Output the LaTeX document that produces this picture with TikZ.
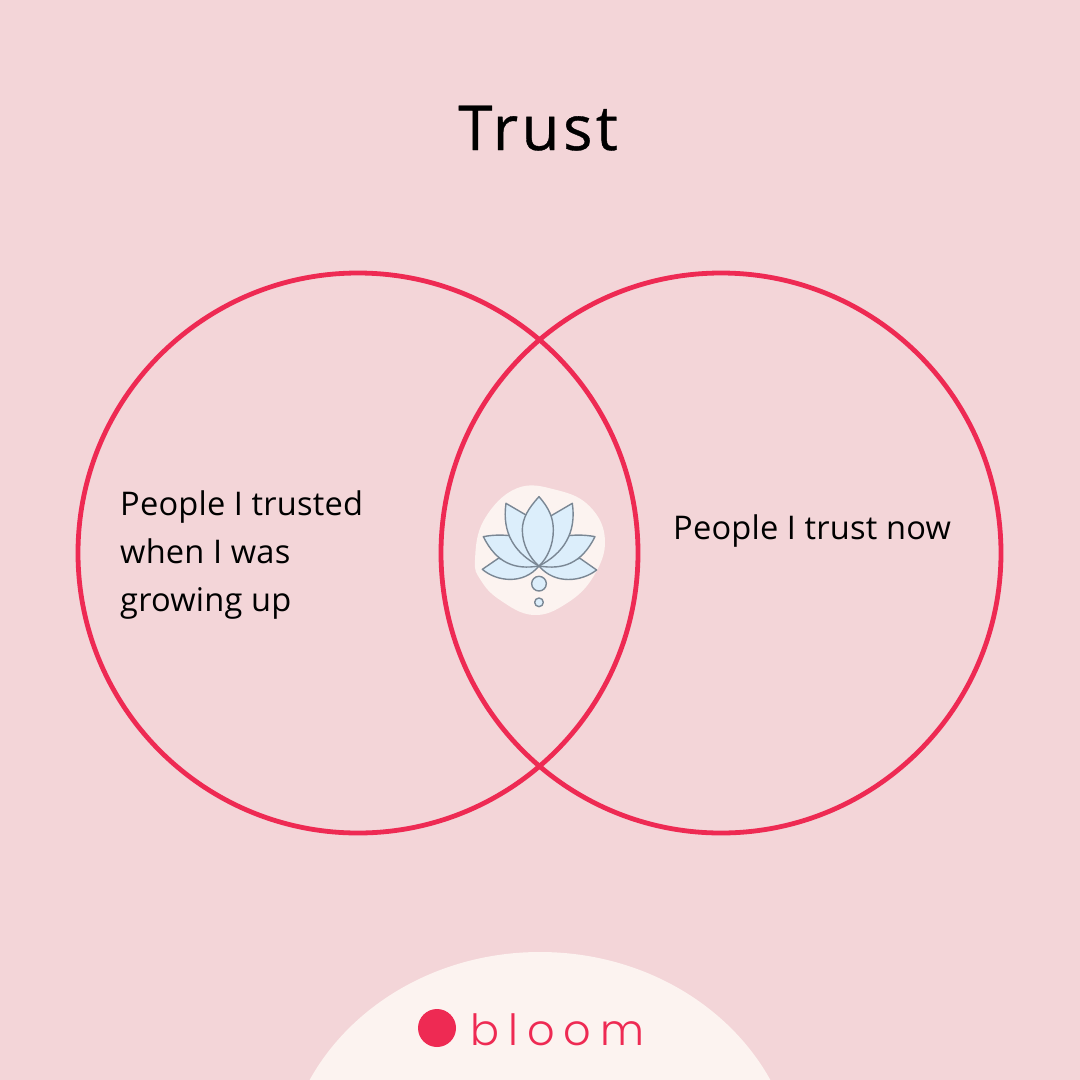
\documentclass[tikz,border=0pt]{standalone}
\usepackage{fontspec}
\setmainfont{Open Sans}
\newfontfamily\logofont[LetterSpace=21]{Poppins Light}
\newfontfamily\titlefont[LetterSpace=5.5,FakeBold=0.6]{Open Sans}
\newfontfamily\labelfont[LetterSpace=0.6]{Open Sans}
\definecolor{bgpink}{HTML}{F3D5D8}
\definecolor{ringred}{HTML}{EE2A53}
\definecolor{cream}{HTML}{FCF3F0}
\definecolor{petalblue}{HTML}{DCEEFB}
\definecolor{petalline}{HTML}{7A8794}
\tikzset{
  ring/.style={draw=ringred,line width=4.8pt,fill=none},
  petal/.style={draw=petalline,fill=petalblue,line width=1.4pt,line join=round},
  label/.style={inner sep=0pt,anchor=base west,text=black,font=\labelfont\fontsize{32.6}{32.6}\selectfont}
}
\begin{document}
\begin{tikzpicture}[x=1pt,y=-1pt]
\useasboundingbox (0,0) rectangle (1080,1080);
\fill[bgpink] (0,0) rectangle (1080,1080);
% footer
\begin{scope}
\clip (0,0) rectangle (1080,1080);
\fill[cream] (540,1182) ellipse [x radius=257, y radius=230];
\end{scope}
\node[circle,fill=ringred,minimum size=38pt,inner sep=0pt] (logodot) at (437,1028) {};
\node[inner sep=0pt,anchor=base west,text=ringred,font=\logofont\fontsize{43}{43}\selectfont] (logotext) at (470,1045) {bloom};
% title
\node[inner sep=0pt,anchor=base west,text=black,font=\titlefont\fontsize{62}{62}\selectfont] (title) at (458,150) {Trust};
% rings
\draw[ring] (358,553) circle [radius=280];
\draw[ring] (721,553) circle [radius=280];
% labels
\node[label] (l1) at (120,515) {People I trusted};
\node[label] (l2) at (120,563) {when I was};
\node[label] (l3) at (120,611) {growing up};
\node[label] (r1) at (673,539) {People I trust now};
% lotus
\begin{scope}[shift={(460,470)},x=0.3333pt,y=-0.3333pt]
\fill[cream] plot[smooth cycle,tension=0.7] coordinates {(45,270) (72,150) (170,55) (290,60) (390,110) (435,210) (400,320) (320,400) (220,435) (120,390) (62,330)};
% lowest petals
\draw[petal] (237,288) .. controls (190,345) and (110,335) .. (67,298) -- (115,265) -- cycle;
\draw[petal] (237,288) .. controls (285,345) and (365,335) .. (410,300) -- (360,265) -- cycle;
% third petals
\draw[petal] (237,288) .. controls (165,300) and (110,280) .. (70,200) .. controls (105,193) and (150,193) .. (185,205) -- cycle;
\draw[petal] (237,288) .. controls (310,300) and (365,280) .. (405,200) .. controls (370,193) and (325,193) .. (290,205) -- cycle;
% second petals
\draw[petal] (237,288) .. controls (165,250) and (125,190) .. (138,100) -- (215,145) -- cycle;
\draw[petal] (237,288) .. controls (310,250) and (350,190) .. (337,100) -- (260,145) -- cycle;
% centre petal
\draw[petal] (237,80) .. controls (205,115) and (187,145) .. (187,180) .. controls (187,225) and (210,265) .. (237,288) .. controls (262,265) and (280,225) .. (280,180) .. controls (280,145) and (268,115) .. (237,80) -- cycle;
\draw[petal] (237,341) circle [radius=22];
\draw[petal] (237,397) circle [radius=13];
\end{scope}
\end{tikzpicture}
\end{document}
